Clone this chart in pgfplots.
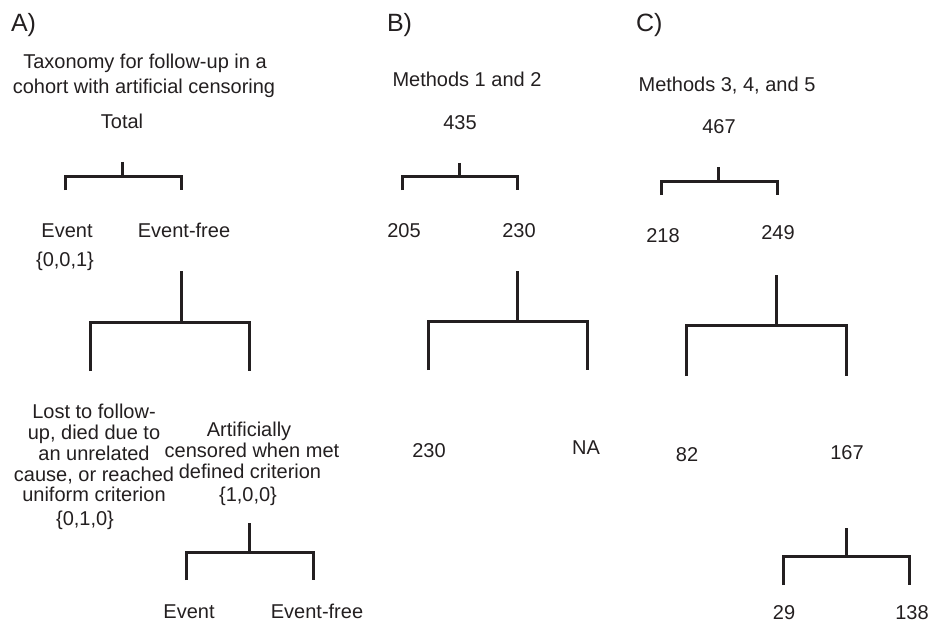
\documentclass[border=0pt]{standalone}
\usepackage{fontspec}
\setmainfont{Liberation Sans}
\usepackage{pgfplots}
\pgfplotsset{compat=1.18}
\definecolor{ink}{HTML}{231F20}

\begin{document}
\begin{tikzpicture}
\begin{axis}[
    scale only axis,
    width=929pt, height=623pt,
    xmin=0, xmax=929, ymin=0, ymax=623,
    y dir=reverse,
    hide axis,
    clip=false,
    unbounded coords=jump,
    bracket/.style={draw=ink, solid, line width=3pt, line join=miter, line cap=butt, no markers},
    nodes={font=\fontsize{20}{24}\selectfont, text=ink, inner sep=0pt, outer sep=0pt, anchor=base},
  ]
  % frame for the bounding box
  \addplot[draw=none, no markers] coordinates {(0,0) (929,623)};

  % A) taxonomy tree
  \addplot[bracket] coordinates {(65,190) (65,176) (181,176) (181,190) (nan,nan) (122,162) (122,176)};
  \addplot[bracket] coordinates {(90,371) (90,322) (249,322) (249,371) (nan,nan) (181,271) (181,322)};
  \addplot[bracket] coordinates {(186,580) (186,552) (313,552) (313,580) (nan,nan) (249,523) (249,552)};

  % B) methods 1 and 2
  \addplot[bracket] coordinates {(402,190) (402,176) (517,176) (517,190) (nan,nan) (459,163) (459,176)};
  \addplot[bracket] coordinates {(428,370) (428,321) (587,321) (587,370) (nan,nan) (517,271) (517,321)};

  % C) methods 3, 4 and 5
  \addplot[bracket] coordinates {(661,195) (661,181) (777,181) (777,195) (nan,nan) (718,167) (718,181)};
  \addplot[bracket] coordinates {(686,376) (686,325) (846,325) (846,376) (nan,nan) (776,275) (776,325)};
  \addplot[bracket] coordinates {(783,585) (783,556) (909,556) (909,585) (nan,nan) (846,528) (846,556)};

  % panel letters
  \node[anchor=base west, font=\fontsize{25}{29}\selectfont] at (axis cs:11,32) {A)};
  \node[anchor=base west, font=\fontsize{25}{29}\selectfont] at (axis cs:387,32) {B)};
  \node[anchor=base west, font=\fontsize{25}{29}\selectfont] at (axis cs:636,32) {C)};

  % A texts
  \node at (axis cs:145,69) {Taxonomy for follow-up in a};
  \node at (axis cs:144,94) {cohort with artificial censoring};
  \node at (axis cs:122,129) {Total};
  \node at (axis cs:67,237) {Event};
  \node at (axis cs:184,237) {Event-free};
  \node at (axis cs:65,266) {\{0,0,1\}};
  \node at (axis cs:94,418) {Lost to follow-};
  \node at (axis cs:94,439) {up, died due to};
  \node at (axis cs:94,460) {an unrelated};
  \node at (axis cs:94,481) {cause, or reached};
  \node at (axis cs:94,501) {uniform criterion};
  \node at (axis cs:85,525) {\{0,1,0\}};
  \node at (axis cs:249,436) {Artificially};
  \node at (axis cs:252,457) {censored when met};
  \node at (axis cs:250,478) {defined criterion};
  \node at (axis cs:248,501) {\{1,0,0\}};
  \node at (axis cs:189,618) {Event};
  \node at (axis cs:317,618) {Event-free};

  % B texts
  \node at (axis cs:467,87) {Methods 1 and 2};
  \node at (axis cs:460,130) {435};
  \node at (axis cs:404,237) {205};
  \node at (axis cs:519,237) {230};
  \node at (axis cs:429,457) {230};
  \node at (axis cs:586,454) {NA};

  % C texts
  \node at (axis cs:727,92) {Methods 3, 4, and 5};
  \node at (axis cs:719,134) {467};
  \node at (axis cs:663,242) {218};
  \node at (axis cs:778,239) {249};
  \node at (axis cs:687,461) {82};
  \node at (axis cs:847,459) {167};
  \node at (axis cs:784,619) {29};
  \node at (axis cs:912,619) {138};
\end{axis}
\end{tikzpicture}
\end{document}
